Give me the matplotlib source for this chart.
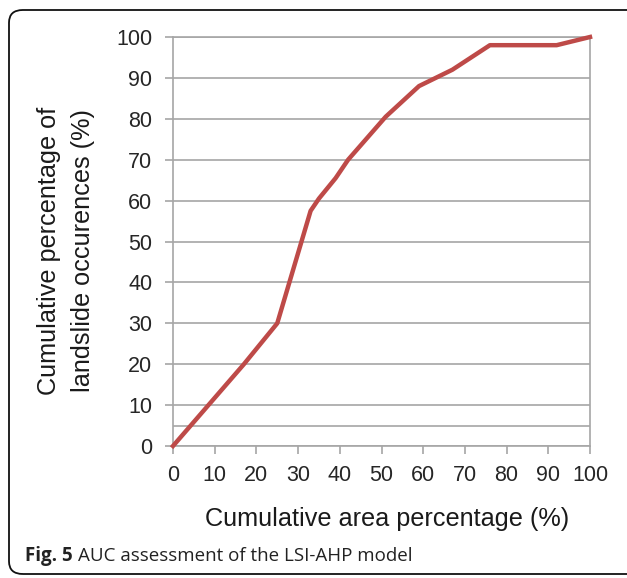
import matplotlib
matplotlib.use("Agg")
import matplotlib.pyplot as plt
from matplotlib.patches import FancyBboxPatch

# values
area_pct = [0, 17, 25, 33, 35, 39, 42, 51, 59, 67, 76, 92, 100]
landslide_pct = [0, 20, 30, 57.5, 60.5, 65.5, 70, 80.5, 88, 92, 98, 98, 100]
x_ticks = list(range(0, 101, 10))
y_ticks = list(range(0, 101, 10))
extra_grid = [5]

sans = ['Liberation Sans', 'DejaVu Sans']
grid_col = '#a6a6a6'
line_col = '#be4a48'

fig = plt.figure(figsize=(6.27, 5.78), dpi=100)
ax = fig.add_axes([173/627, 132/578, 417/627, 409/578])

ax.plot(area_pct, landslide_pct, color=line_col, lw=3.2, solid_joinstyle='round', zorder=3, clip_on=False)

ax.set_xlim(0, 100)
ax.set_ylim(0, 100)
ax.set_xticks(x_ticks)
ax.set_yticks(y_ticks)
ax.set_xticklabels([str(v) for v in x_ticks], family=sans, fontsize=15.5, color='#262626')
ax.set_yticklabels([str(v) for v in y_ticks], family=sans, fontsize=15.5, color='#262626')
ax.tick_params(axis='x', direction='out', length=6, width=1.2, color=grid_col, pad=8)
ax.tick_params(axis='y', direction='out', length=6, width=1.2, color=grid_col, pad=9)

ax.grid(axis='y', color=grid_col, lw=1.2)
for g in extra_grid:
    ax.axhline(g, color=grid_col, lw=1.2, zorder=0.5)
ax.set_axisbelow(True)
for s in ax.spines.values():
    s.set_color(grid_col)
    s.set_linewidth(1.2)

ax.set_xlabel("Cumulative area percentage (%)", family=sans, fontsize=18.2, color='#1a1a1a', va='center')
ax.xaxis.set_label_coords(0.513, -0.178)
ax.set_ylabel("Cumulative percentage of\nlandslide occurences (%)", family=sans, fontsize=18.2,
              color='#1a1a1a', va='center', linespacing=1.5)
ax.yaxis.set_label_coords(-0.257, 0.477)

# rounded frame around the figure panel (right side runs off the image)
frame = FancyBboxPatch((9/627, 4/578), 632/627, 564/578, boxstyle="round,pad=0,rounding_size=0.022",
                       transform=fig.transFigure, fill=False, ec='#111111', lw=1.3, clip_on=False)
fig.patches.append(frame)

# caption: bold label then regular text
cap_y = 1 - 561/578
t1 = fig.text(25/627, cap_y, "Fig. 5", family=['Open Sans', 'DejaVu Sans'], fontweight='bold',
              fontsize=13.5, color='#222222', va='baseline')
fig.canvas.draw()
bb = t1.get_window_extent(renderer=fig.canvas.get_renderer())
fig.text(bb.x1/627 + 5/627, cap_y, "AUC assessment of the LSI-AHP model", family=['Open Sans', 'DejaVu Sans'],
         fontsize=13.5, color='#222222', va='baseline')

fig.savefig("out.png", dpi=100)
